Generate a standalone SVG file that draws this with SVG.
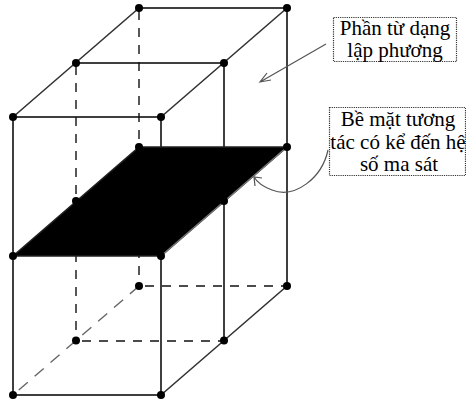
<svg xmlns="http://www.w3.org/2000/svg" width="466" height="401" viewBox="0 0 466 401">
<style>
.s{stroke:#000;stroke-width:1.5;fill:none}
.g{stroke:#333;stroke-width:1.6;fill:none}
.d{stroke:#111;stroke-width:1.4;fill:none;stroke-dasharray:9 8}
.dg{stroke:#666;stroke-width:1.4;fill:none;stroke-dasharray:12 9}
.a{stroke:#555;stroke-width:1.2;fill:none}
.b{fill:#fff;stroke:#333;stroke-width:1.2;stroke-dasharray:1.2 1}
text{font-family:"Liberation Serif",serif;font-size:21px;fill:#000;text-anchor:middle}
circle{fill:#000}
</style>
<rect width="466" height="401" fill="#fff"/>
<g id="connectors">
<path class="s" d="M139 8H287M76 63H224M13 117H161M13 395H161M13 117V395M161 117V395M224 63V341M287 8V286"/>
<path class="g" d="M139 8L13 117M287 8L161 117M287 286L161 395"/>
<path class="d" d="M76 66V340M139 11V286M82 341H224M145 286H287"/>
<path class="dg" d="M139 286L13 395"/>
<path id="surface" d="M13 256H161L287 147H139Z" fill="#000" stroke="#222" stroke-width="1.500"/>
<path d="M161 256L287 147" stroke="#777" stroke-width="1.200" fill="none"/>
<path d="M326 44L260 82M271 80L260 82L267 73" class="a"/>
<path d="M328 150C322 178 295 199 272 190C264 187 258 184 254 177M262 178L254 177L255 186" class="a"/>
</g>
<g id="node-1"><circle cx="139" cy="8" r="4"/></g>
<g id="node-2"><circle cx="287" cy="8" r="4"/></g>
<g id="node-3"><circle cx="76" cy="63" r="4"/></g>
<g id="node-4"><circle cx="224" cy="63" r="4"/></g>
<g id="node-5"><circle cx="13" cy="117" r="4"/></g>
<g id="node-6"><circle cx="161" cy="117" r="4"/></g>
<g id="node-7"><circle cx="13" cy="256" r="4"/></g>
<g id="node-8"><circle cx="161" cy="256" r="4"/></g>
<g id="node-9"><circle cx="76" cy="201" r="4"/></g>
<g id="node-10"><circle cx="224" cy="201" r="4"/></g>
<g id="node-11"><circle cx="139" cy="147" r="4"/></g>
<g id="node-12"><circle cx="287" cy="147" r="4"/></g>
<g id="node-13"><circle cx="13" cy="395" r="4"/></g>
<g id="node-14"><circle cx="161" cy="395" r="4"/></g>
<g id="node-15"><circle cx="76" cy="340.500" r="4"/></g>
<g id="node-16"><circle cx="224" cy="340.500" r="4"/></g>
<g id="node-17"><circle cx="139" cy="286" r="4"/></g>
<g id="node-18"><circle cx="287" cy="286" r="4"/></g>
<g id="label-1">
<rect class="b" x="333.500" y="17.500" width="123" height="44"/>
<text x="395" y="35">Phần từ dạng</text>
<text x="395" y="57">lập phương</text>
</g>
<g id="label-2">
<rect class="b" x="329.500" y="107.500" width="136" height="68"/>
<text x="398" y="126">Bề mặt tương</text>
<text x="398" y="149">tác có kể đến hệ</text>
<text x="399" y="171">số ma sát</text>
</g>
</svg>
